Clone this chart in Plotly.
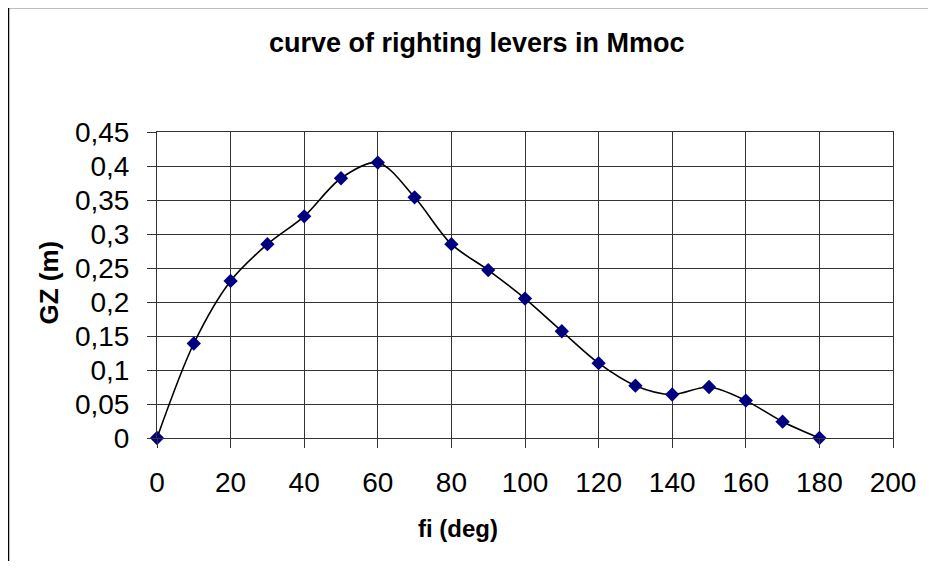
import plotly.graph_objects as go

# Data
angle_deg = [0, 10, 20, 30, 40, 50, 60, 70, 80, 90, 100, 110, 120, 130, 140, 150, 160, 170, 180]
gz_m = [0.0, 0.139, 0.231, 0.285, 0.326, 0.382, 0.405, 0.354, 0.285, 0.247, 0.205,
        0.157, 0.110, 0.077, 0.064, 0.075, 0.055, 0.024, 0.0]

x_tickvals = [0, 20, 40, 60, 80, 100, 120, 140, 160, 180, 200]
x_ticktext = ["0", "20", "40", "60", "80", "100", "120", "140", "160", "180", "200"]
y_tickvals = [0, 0.05, 0.1, 0.15, 0.2, 0.25, 0.3, 0.35, 0.4, 0.45]
y_ticktext = ["0", "0,05", "0,1", "0,15", "0,2", "0,25", "0,3", "0,35", "0,4", "0,45"]

title_text = "curve of righting levers in Mmoc"
x_title = "fi (deg)"
y_title = "GZ (m)"

OFF = 8  # page body margin offset
W, H = 936 - OFF, 569 - 2 * OFF
# target screen positions of plot area
SL, ST, SR, SB = 157, 132, 893, 438
L, T = SL - OFF, ST - OFF
R = W - (SR - OFF)
B = H - (SB - OFF)
pw, ph = SR - SL, SB - ST

def px(x):
    return (x - SL) / pw

def py(y):
    return (SB - y) / ph

FONT = "Liberation Sans, Arial, sans-serif"
GRID = "#333333"

fig = go.Figure()
fig.add_trace(go.Scatter(
    x=angle_deg, y=gz_m, mode="lines+markers",
    line=dict(color="black", width=1.6, shape="spline", smoothing=0.9),
    marker=dict(symbol="diamond", size=11, color="#000080",
                line=dict(color="#000080", width=0)),
    showlegend=False, cliponaxis=False,
))

fig.update_layout(
    width=W, height=H,
    margin=dict(l=L, r=R, t=T, b=B, pad=0),
    paper_bgcolor="white", plot_bgcolor="white",
    font=dict(family=FONT, color="black", size=28),
    xaxis=dict(range=[0, 200], tickvals=x_tickvals, ticktext=x_ticktext,
               showgrid=True, gridcolor=GRID, gridwidth=1,
               ticks="outside", ticklen=9, tickcolor=GRID, tickwidth=1,
               showline=True, linecolor=GRID, linewidth=1, mirror=True,
               zeroline=False, tickfont=dict(size=28, family=FONT),
               ticklabelstandoff=10),
    yaxis=dict(range=[0, 0.45], tickvals=y_tickvals, ticktext=y_ticktext,
               showgrid=True, gridcolor=GRID, gridwidth=1,
               ticks="outside", ticklen=9, tickcolor=GRID, tickwidth=1,
               showline=True, linecolor=GRID, linewidth=1, mirror=True,
               zeroline=False, tickfont=dict(size=28, family=FONT),
               ticklabelstandoff=12),
    annotations=[
        dict(text="<b>" + title_text + "</b>", x=px(477), y=py(43),
             xref="paper", yref="paper", showarrow=False,
             xanchor="center", yanchor="middle",
             font=dict(size=27, family=FONT, color="black")),
        dict(text="<b>" + x_title + "</b>", x=px(457.5), y=py(528),
             xref="paper", yref="paper", showarrow=False,
             xanchor="center", yanchor="middle",
             font=dict(size=24, family=FONT, color="black")),
        dict(text="<b>" + y_title + "</b>", x=px(48), y=py(282.5),
             xref="paper", yref="paper", showarrow=False, textangle=-90,
             xanchor="center", yanchor="middle",
             font=dict(size=26, family=FONT, color="black")),
    ],
    shapes=[
        dict(type="rect", xref="paper", yref="paper",
             x0=px(8.5), y0=py(600), x1=px(980), y1=py(7.5),
             line=dict(color="black", width=1.5), fillcolor="rgba(0,0,0,0)",
             layer="above"),
    ],
)

fig.write_html("out.html")
